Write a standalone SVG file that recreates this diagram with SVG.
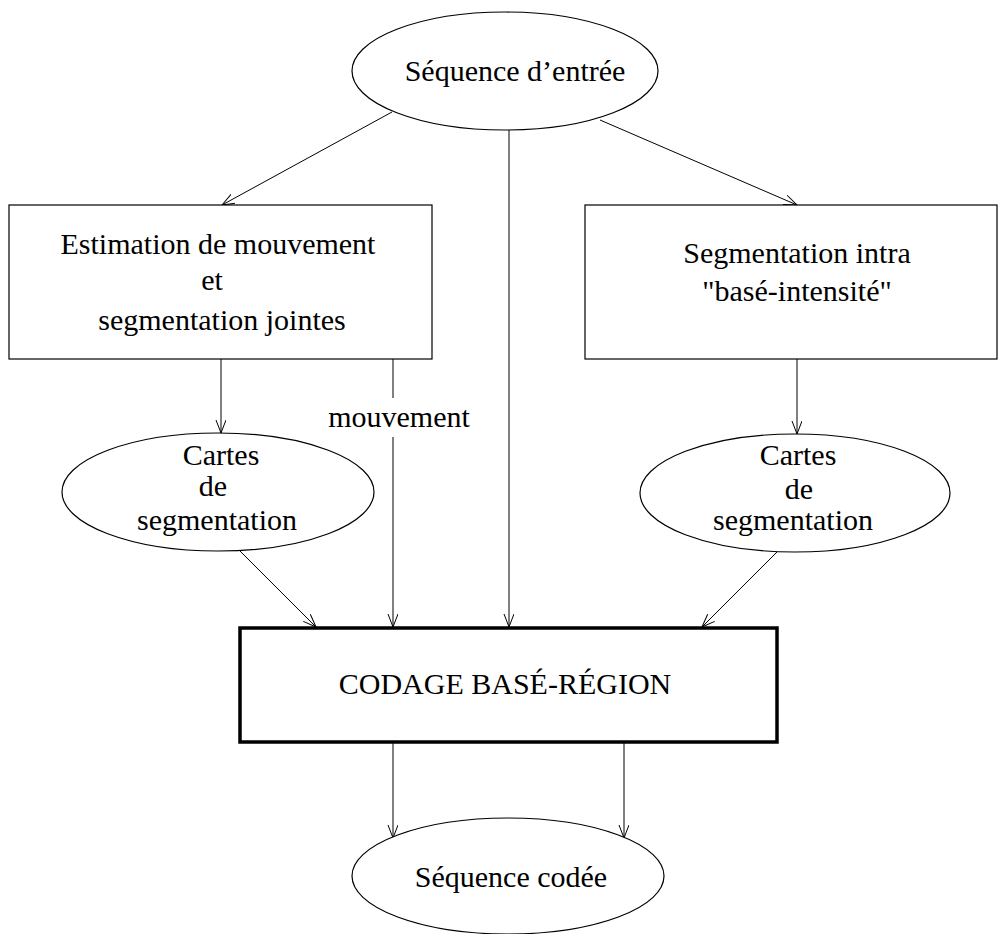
<svg xmlns="http://www.w3.org/2000/svg" width="998" height="934" viewBox="0 0 998 934">
<defs>
<style>
.n{fill:#fff;stroke:#000;stroke-width:1.2}
.t{font-family:"Liberation Serif","Times New Roman",serif;font-size:30px;fill:#000;text-anchor:middle}
.c{fill:none;stroke:#000;stroke-width:1}
</style>
<marker id="ah" markerUnits="userSpaceOnUse" markerWidth="16" markerHeight="12" refX="13" refY="5" orient="auto" viewBox="0 0 16 12">
<path d="M0,0 L13,5 L0,10" fill="none" stroke="#000" stroke-width="1"/>
</marker>
</defs>
<rect width="998" height="934" fill="#fff"/>
<g id="connectors">
<line class="c" x1="392" y1="112" x2="222" y2="205" marker-end="url(#ah)"/>
<line class="c" x1="600" y1="120" x2="797" y2="205" marker-end="url(#ah)"/>
<line class="c" x1="509" y1="130" x2="509" y2="627" marker-end="url(#ah)"/>
<line class="c" x1="221" y1="359" x2="221" y2="433" marker-end="url(#ah)"/>
<line class="c" x1="393" y1="359" x2="393" y2="398"/>
<line class="c" x1="393" y1="437" x2="393" y2="627" marker-end="url(#ah)"/>
<line class="c" x1="797" y1="359" x2="797" y2="434" marker-end="url(#ah)"/>
<line class="c" x1="240" y1="551" x2="316" y2="627" marker-end="url(#ah)"/>
<line class="c" x1="777" y1="552" x2="702" y2="627" marker-end="url(#ah)"/>
<line class="c" x1="393" y1="742" x2="393" y2="838" marker-end="url(#ah)"/>
<line class="c" x1="624" y1="742" x2="624" y2="838" marker-end="url(#ah)"/>
<text class="t" x="399" y="427">mouvement</text>
</g>
<g id="seq-entree">
<ellipse class="n" cx="505" cy="71" rx="153" ry="59"/>
<text class="t" x="515" y="81">Séquence d’entrée</text>
</g>
<g id="estimation">
<rect class="n" x="9" y="205" width="423" height="154"/>
<text class="t" x="218" y="254">Estimation de mouvement</text>
<text class="t" x="212" y="290">et</text>
<text class="t" x="222" y="330">segmentation jointes</text>
</g>
<g id="segmentation-intra">
<rect class="n" x="585" y="205" width="412" height="154"/>
<text class="t" x="797" y="263">Segmentation intra</text>
<text class="t" x="797" y="301">"basé-intensité"</text>
</g>
<g id="cartes-gauche">
<ellipse class="n" cx="218" cy="492" rx="156" ry="59"/>
<text class="t" x="221" y="465">Cartes</text>
<text class="t" x="213" y="496">de</text>
<text class="t" x="217" y="530">segmentation</text>
</g>
<g id="cartes-droite">
<ellipse class="n" cx="795" cy="493" rx="155" ry="59"/>
<text class="t" x="798" y="465">Cartes</text>
<text class="t" x="799" y="499">de</text>
<text class="t" x="793" y="530">segmentation</text>
</g>
<g id="codage">
<rect x="240" y="628" width="537" height="114" fill="#fff" stroke="#000" stroke-width="3.5"/>
<text class="t" x="505" y="694">CODAGE BASÉ-RÉGION</text>
</g>
<g id="seq-codee">
<ellipse class="n" cx="508" cy="876" rx="156" ry="58"/>
<text class="t" x="511" y="887">Séquence codée</text>
</g>
</svg>
